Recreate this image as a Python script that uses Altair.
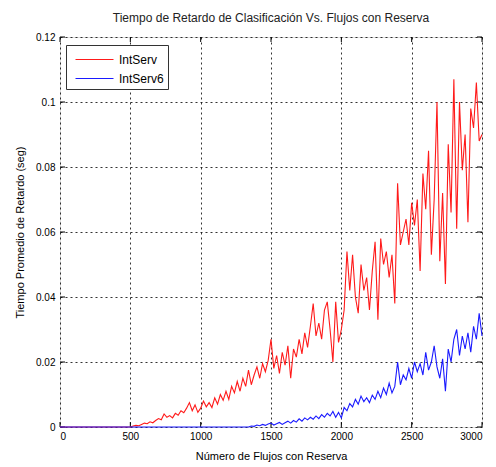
import altair as alt
import pandas as pd

flows = list(range(0, 3001, 20))

intserv = [0.0] * 26 + [
    0.0003, 0.0005, 0.0004, 0.0008, 0.0012, 0.0010, 0.0016, 0.0013, 0.0020, 0.0026,
    0.0022, 0.0040, 0.0030, 0.0035, 0.0028, 0.0042, 0.0036, 0.0050, 0.0044, 0.0058,
    0.0075, 0.0050, 0.0068, 0.0045, 0.0058, 0.0080, 0.0062, 0.0075, 0.0060, 0.0090,
    0.0070, 0.0100, 0.0082, 0.0110, 0.0085, 0.0125, 0.0105, 0.0140, 0.0110, 0.0150,
    0.0125, 0.0175, 0.0130, 0.0160, 0.0185, 0.0150, 0.0195, 0.0170, 0.0205, 0.0270,
    0.0180, 0.0220, 0.0165, 0.0230, 0.0190, 0.0250, 0.0150, 0.0240, 0.0215, 0.0270,
    0.0225, 0.0290, 0.0245, 0.0310, 0.0380, 0.0280, 0.0320, 0.0270, 0.0360, 0.0385,
    0.0300, 0.0200, 0.0385, 0.0260, 0.0300, 0.0360, 0.0540, 0.0420, 0.0530, 0.0400,
    0.0350, 0.0500, 0.0420, 0.0460, 0.0360, 0.0480, 0.0570, 0.0330, 0.0580, 0.0500,
    0.0540, 0.0460, 0.0530, 0.0380, 0.0750, 0.0560, 0.0600, 0.0640, 0.0560, 0.0690,
    0.0620, 0.0700, 0.0480, 0.0780, 0.0670, 0.0850, 0.0530, 0.0700, 0.1000, 0.0510,
    0.0720, 0.0440, 0.0870, 0.0660, 0.1070, 0.0610, 0.1000, 0.0790, 0.0900, 0.0630,
    0.0980, 0.0920, 0.1060, 0.0880, 0.0900,
]

intserv6 = [0.0] * 68 + [
    0.0003, 0.0002, 0.0006, 0.0004, 0.0008, 0.0005, 0.0009, 0.0012, 0.0006, 0.0010,
    0.0014, 0.0008, 0.0013, 0.0018, 0.0012, 0.0020, 0.0015, 0.0025, 0.0018, 0.0028,
    0.0022, 0.0030, 0.0024, 0.0034, 0.0026, 0.0038, 0.0030, 0.0042, 0.0034, 0.0048,
    0.0030, 0.0045, 0.0028, 0.0060, 0.0050, 0.0072, 0.0062, 0.0085, 0.0070, 0.0095,
    0.0078, 0.0090, 0.0075, 0.0098, 0.0085, 0.0110, 0.0090, 0.0120, 0.0100, 0.0135,
    0.0105, 0.0125, 0.0200, 0.0130, 0.0160, 0.0145, 0.0180, 0.0150, 0.0200, 0.0170,
    0.0195, 0.0160, 0.0230, 0.0175, 0.0200, 0.0250, 0.0185, 0.0150, 0.0210, 0.0110,
    0.0240, 0.0200, 0.0270, 0.0300, 0.0220, 0.0280, 0.0240, 0.0290, 0.0230, 0.0310,
    0.0270, 0.0350, 0.0280,
]

series_names = ["IntServ", "IntServ6"]
series_colors = ["#ff1a1a", "#1a1aff"]

x_ticks = [0, 500, 1000, 1500, 2000, 2500, 3000]
y_ticks = [0, 0.02, 0.04, 0.06, 0.08, 0.1, 0.12]

df = pd.concat([
    pd.DataFrame({"flows": flows, "delay": intserv, "serie": series_names[0]}),
    pd.DataFrame({"flows": flows, "delay": intserv6, "serie": series_names[1]}),
])

FONT = "Liberation Sans"

x_scale = alt.Scale(domain=[0, 3000], nice=False)
y_scale = alt.Scale(domain=[0, 0.12], nice=False)

lines = alt.Chart(df).mark_line(strokeWidth=1.1, clip=False).encode(
    x=alt.X("flows:Q", scale=x_scale,
            axis=alt.Axis(values=x_ticks, format="d", title="Número de Flujos con Reserva",
                          grid=True, gridDash=[2, 3], gridColor="#000000", gridOpacity=0.8,
                          tickSize=0, labelPadding=4, titlePadding=9,
                          titleFontWeight="normal", domain=False)),
    y=alt.Y("delay:Q", scale=y_scale,
            axis=alt.Axis(values=y_ticks, format="~g", title="Tiempo Promedio de Retardo (seg)",
                          grid=True, gridDash=[2, 3], gridColor="#000000", gridOpacity=0.8,
                          tickSize=0, labelPadding=5, titlePadding=10,
                          titleFontWeight="normal", domain=False)),
    color=alt.Color("serie:N",
                    scale=alt.Scale(domain=series_names, range=series_colors),
                    legend=alt.Legend(title=None, orient="none", legendX=6, legendY=8,
                                      fillColor="#ffffff", strokeColor="#333333",
                                      padding=4, symbolType="M-0.5,0H3.3", symbolSize=400,
                                      symbolStrokeWidth=1, symbolFillColor="transparent",
                                      labelFontSize=12,
                                      labelFont=FONT, rowPadding=2, labelOffset=28,
                                      labelLimit=200)),
)

xt = pd.DataFrame({"flows": x_ticks})
yt = pd.DataFrame({"delay": y_ticks})

xtick_bottom = alt.Chart(xt).mark_rule(color="#000000", strokeWidth=1).encode(
    x=alt.X("flows:Q", scale=x_scale), y=alt.value(390), y2=alt.value(385))
xtick_top = alt.Chart(xt).mark_rule(color="#000000", strokeWidth=1).encode(
    x=alt.X("flows:Q", scale=x_scale), y=alt.value(0), y2=alt.value(5))
ytick_left = alt.Chart(yt).mark_rule(color="#000000", strokeWidth=1).encode(
    y=alt.Y("delay:Q", scale=y_scale), x=alt.value(0), x2=alt.value(5))
ytick_right = alt.Chart(yt).mark_rule(color="#000000", strokeWidth=1).encode(
    y=alt.Y("delay:Q", scale=y_scale), x=alt.value(422), x2=alt.value(417))

chart = alt.layer(xtick_bottom, xtick_top, ytick_left, ytick_right, lines).properties(
    width=422, height=390,
    title=alt.TitleParams("Tiempo de Retardo de Clasificación Vs. Flujos con Reserva",
                          fontSize=12, fontWeight="normal", font=FONT, offset=7,
                          color="#222222"),
    autosize=alt.AutoSizeParams(type="none"),
    padding={"left": 52, "top": 29, "right": 6, "bottom": 40},
).configure_view(stroke="#333333", strokeWidth=1).configure_axis(
    labelFont=FONT, titleFont=FONT, labelFontSize=12, titleFontSize=12,
    labelColor="#222222", titleColor="#222222", titleFontWeight="normal",
).configure(background="#ffffff")

chart.save("out.html", embed_options={"renderer": "svg", "actions": False})
